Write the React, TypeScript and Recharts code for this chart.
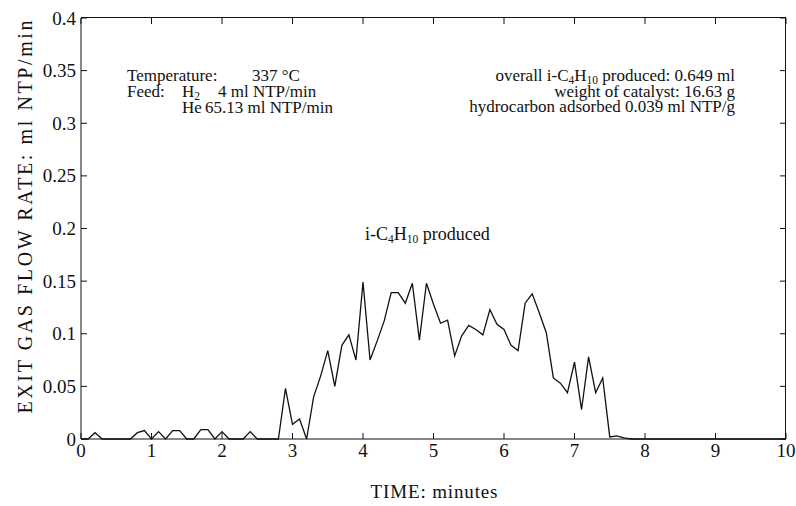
import React from "react";
import { LineChart, Line, XAxis, YAxis, Customized } from "recharts";

const timeMin = [0, 0.1, 0.2, 0.3, 0.7, 0.8, 0.9, 1.0, 1.1, 1.2, 1.3, 1.4, 1.5, 1.6, 1.7, 1.8, 1.9, 2.0, 2.1, 2.3, 2.4, 2.5, 2.8, 2.9, 3.0, 3.1, 3.2, 3.3, 3.4, 3.5, 3.6, 3.7, 3.8, 3.9, 4.0, 4.1, 4.2, 4.3, 4.4, 4.5, 4.6, 4.7, 4.8, 4.9, 5.0, 5.1, 5.2, 5.3, 5.4, 5.5, 5.6, 5.7, 5.8, 5.9, 6.0, 6.1, 6.2, 6.3, 6.4, 6.5, 6.6, 6.7, 6.8, 6.9, 7.0, 7.1, 7.2, 7.3, 7.4, 7.5, 7.6, 7.7, 7.8, 10];
const flowRate = [0, 0, 0.006, 0, 0, 0.006, 0.008, 0, 0.007, 0, 0.008, 0.008, 0, 0, 0.009, 0.009, 0, 0.007, 0, 0, 0.007, 0, 0, 0.048, 0.014, 0.019, 0, 0.040, 0.060, 0.084, 0.050, 0.089, 0.099, 0.075, 0.149, 0.075, 0.093, 0.112, 0.139, 0.139, 0.129, 0.148, 0.094, 0.148, 0.128, 0.110, 0.113, 0.079, 0.098, 0.108, 0.104, 0.099, 0.123, 0.109, 0.104, 0.089, 0.084, 0.129, 0.138, 0.120, 0.101, 0.058, 0.053, 0.044, 0.073, 0.028, 0.078, 0.044, 0.058, 0.002, 0.003, 0.001, 0, 0];

const xTicks = [0, 1, 2, 3, 4, 5, 6, 7, 8, 9, 10];
const yTicks = [0, 0.05, 0.1, 0.15, 0.2, 0.25, 0.3, 0.35, 0.4];

const X_MAX = 10;
const Y_MAX = 0.4;

const data = timeMin.map((t, i) => ({ t, v: flowRate[i] }));

const FONT = '"Liberation Serif", "Times New Roman", serif';
const INK = "#111";
const TICK_LEN = 6;

const W = 796;
const H = 506;
const MARGIN = { top: 18, right: 10, left: 11, bottom: 27 };
const Y_AXIS_W = 70;
const X_AXIS_H = 40;

const PLOT = {
  x: MARGIN.left + Y_AXIS_W,
  y: MARGIN.top,
  width: W - MARGIN.left - MARGIN.right - Y_AXIS_W,
  height: H - MARGIN.top - MARGIN.bottom - X_AXIS_H,
};

const BottomTick = ({ x, y, payload }: any) => (
  <g>
    <line x1={x} x2={x} y1={y} y2={y - TICK_LEN} stroke={INK} />
    <text x={x} y={y + 18} textAnchor="middle" fontSize={19} fontFamily={FONT} fill={INK}>
      {payload.value}
    </text>
  </g>
);

const LeftTick = ({ x, y, payload }: any) => (
  <g>
    <line x1={x} x2={x + TICK_LEN} y1={y} y2={y} stroke={INK} />
    <text x={x - 5} y={y + 6.5} textAnchor="end" fontSize={19} fontFamily={FONT} fill={INK}>
      {payload.value}
    </text>
  </g>
);

const Sub = ({ children }: { children: React.ReactNode }) => (
  <tspan fontSize={11.5} dy={2.5}>{children}</tspan>
);

const sx = (t: number) => PLOT.x + (t / X_MAX) * PLOT.width;
const sy = (v: number) => PLOT.y + PLOT.height - (v / Y_MAX) * PLOT.height;

const Annotations = () => (
  <g fontFamily={FONT} fill={INK} fontSize={17}>
    <text x={32} y={217} fontSize={20} textAnchor="middle" textLength={393} lengthAdjust="spacing"
      transform="rotate(-90 32 217)">
      EXIT GAS FLOW RATE: ml NTP/min
    </text>
    <text x={434} y={498} fontSize={19} textAnchor="middle" textLength={127} lengthAdjust="spacing">
      TIME: minutes
    </text>

    <text x={127} y={81}>Temperature:</text>
    <text x={252} y={81}>337 °C</text>
    <text x={127} y={97}>Feed:</text>
    <text x={182} y={97}>H<Sub>2</Sub></text>
    <text x={218} y={97}>4 ml NTP/min</text>
    <text x={182} y={113}>He</text>
    <text x={205} y={113}>65.13 ml NTP/min</text>

    <text x={735} y={81} textAnchor="end">
      overall i-C<Sub>4</Sub><tspan dy={-2.5}>H</tspan><Sub>10</Sub><tspan dy={-2.5}> produced: 0.649 ml</tspan>
    </text>
    <text x={735} y={97} textAnchor="end">weight of catalyst: 16.63 g</text>
    <text x={735} y={112} textAnchor="end">hydrocarbon adsorbed 0.039 ml NTP/g</text>

    <text x={365} y={240} fontSize={18}>
      i-C<Sub>4</Sub><tspan dy={-2.5}>H</tspan><Sub>10</Sub><tspan dy={-2.5}> produced</tspan>
    </text>
  </g>
);

// Top and right edges of the plot box (CSS border) plus inward ticks
const FrameOverlay = () => {
  const right = PLOT.x + PLOT.width;
  const top = PLOT.y;
  return (
    <>
      <div
        style={{
          position: "absolute",
          left: PLOT.x,
          top: PLOT.y - 1,
          width: PLOT.width,
          height: PLOT.height + 1,
          borderTop: `1px solid ${INK}`,
          borderRight: `1px solid ${INK}`,
          boxSizing: "border-box",
          pointerEvents: "none",
        }}
      />
      <svg
        width={W}
        height={H}
        style={{ position: "absolute", left: 0, top: 0, pointerEvents: "none" }}
      >
        {xTicks.map((t) => (
          <rect key={"tx" + t} x={sx(t) - 0.5} y={top} width={1} height={TICK_LEN} fill={INK} />
        ))}
        {yTicks.map((v) => (
          <rect key={"ty" + v} x={right - TICK_LEN} y={sy(v) - 0.5} width={TICK_LEN} height={1} fill={INK} />
        ))}
      </svg>
    </>
  );
};

export default function App() {
  return (
    <div style={{ position: "absolute", left: 0, top: 0, width: W, height: H, background: "#fff" }}>
      <LineChart width={W} height={H} data={data} margin={MARGIN}>
        <XAxis
          dataKey="t"
          type="number"
          domain={[0, X_MAX]}
          ticks={xTicks}
          interval={0}
          height={X_AXIS_H}
          tickSize={0}
          tickMargin={0}
          tickLine={false}
          stroke={INK}
          tick={<BottomTick />}
        />
        <YAxis
          type="number"
          domain={[0, Y_MAX]}
          ticks={yTicks}
          interval={0}
          width={Y_AXIS_W}
          tickSize={0}
          tickMargin={0}
          tickLine={false}
          stroke={INK}
          tick={<LeftTick />}
        />
        <Line
          type="linear"
          dataKey="v"
          stroke={INK}
          strokeWidth={1.3}
          dot={false}
          isAnimationActive={false}
        />
        <Customized component={Annotations} />
      </LineChart>
      <FrameOverlay />
    </div>
  );
}
